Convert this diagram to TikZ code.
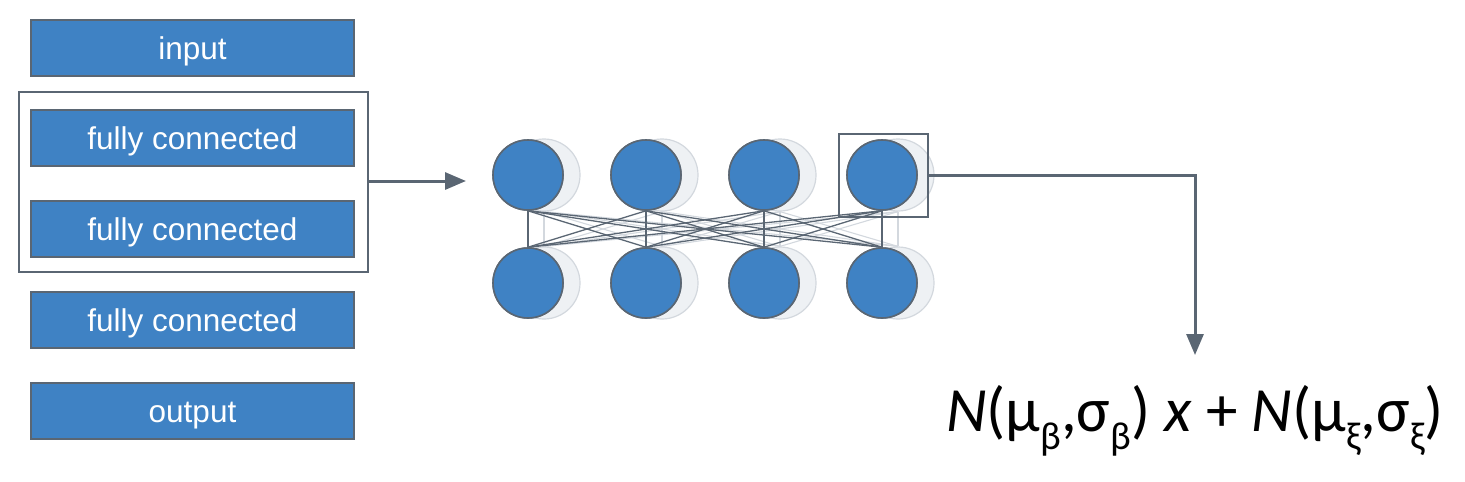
\documentclass[tikz,border=0pt]{standalone}
\usepackage{fontspec}
\setmainfont{Liberation Sans}
\newfontfamily\formulafont{Carlito}
\usetikzlibrary{arrows.meta}
\definecolor{layerblue}{HTML}{3F82C4}
\definecolor{edgegrey}{HTML}{5A6673}
\definecolor{ghostfill}{HTML}{EEF1F4}
\definecolor{ghostline}{HTML}{D3D8DE}
\newcommand\lowsub[1]{\raisebox{-0.3em}{\fontsize{39}{39}\selectfont #1}}
\tikzset{
  layer/.style={draw=edgegrey, line width=1.6pt, fill=layerblue, minimum width=323pt, minimum height=56pt, inner sep=0pt, text=white, font=\fontsize{31.5}{33}\selectfont, text height=22.5pt, text depth=0pt},
  neuron/.style={circle, draw=edgegrey, line width=1.6pt, fill=layerblue, minimum size=70pt, inner sep=0pt},
  ghost/.style={circle, draw=ghostline, line width=1.2pt, fill=ghostfill, minimum size=72pt, inner sep=0pt},
  conn/.style={draw=edgegrey, line width=1.3pt},
  ghostconn/.style={draw=ghostline, line width=1.1pt},
  flow/.style={draw=edgegrey, line width=3pt, -{Triangle[length=21pt, width=17pt]}},
  frame/.style={draw=edgegrey, line width=1.5pt}
}
\begin{document}
\begin{tikzpicture}[x=1pt, y=-1pt]
\useasboundingbox (0,0) rectangle (1465,482);
% layer stack
\node[layer] (in)  at (192.5,48)  {input};
\node[layer] (fc1) at (192.5,138) {fully connected};
\node[layer] (fc2) at (192.5,229) {fully connected};
\node[layer] (fc3) at (192.5,320) {fully connected};
\node[layer] (out) at (192.5,411) {output};
\node[frame, minimum width=349pt, minimum height=180pt, inner sep=0pt] (grp) at (193.5,182) {};
% ghost neurons
\foreach \i/\x in {1/528,2/646,3/764,4/882}{
  \node[ghost] (gt\i) at (\x+16,175) {};
  \node[ghost] (gb\i) at (\x+16,283) {};
}
% ghost connections
\foreach \i in {1,...,4}{
  \foreach \j in {1,...,4}{
    \draw[ghostconn] (gt\i.south) -- (gb\j.north);
  }
}
% neurons
\foreach \i/\x in {1/528,2/646,3/764,4/882}{
  \node[neuron] (t\i) at (\x,175) {};
  \node[neuron] (b\i) at (\x,283) {};
}
\foreach \i in {1,...,4}{
  \foreach \j in {1,...,4}{
    \draw[conn] (t\i.south) -- (b\j.north);
  }
}
% redraw neurons on top
\foreach \i/\x in {1/528,2/646,3/764,4/882}{
  \node[neuron] at (\x,175) {};
  \node[neuron] at (\x,283) {};
}
\node[frame, minimum width=89pt, minimum height=83pt, inner sep=0pt] (sel) at (883.5,175.5) {};
% arrows
\coordinate (netin) at (466,181);
\draw[flow] (grp.east |- netin) -- (netin);
\node[inner sep=0pt, anchor=base] (formula) at (1195,431)
  {\formulafont\fontsize{63}{66}\selectfont\textit{N}(μ\lowsub{β},σ\lowsub{β}) \textit{x} + \textit{N}(μ\lowsub{ξ},σ\lowsub{ξ})};
\coordinate (corner) at (1195,175);
\coordinate (tip) at (1195,355);
\draw[flow] (sel.east |- corner) -- (corner) -- (tip);
\end{tikzpicture}
\end{document}
